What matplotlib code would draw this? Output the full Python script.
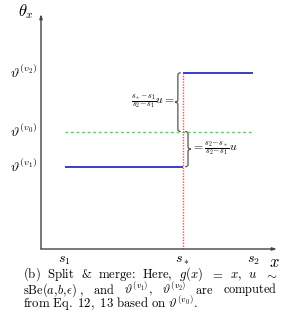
import matplotlib
matplotlib.use("Agg")
import matplotlib.pyplot as plt
from matplotlib.path import Path
from matplotlib.patches import PathPatch

plt.rcParams['mathtext.fontset'] = 'cm'
plt.rcParams['font.family'] = ['cmr10', 'DejaVu Serif']
plt.rcParams['axes.unicode_minus'] = False
plt.rcParams['axes.formatter.use_mathtext'] = True

# data
s_labels = [r'$s_1$', r'$s_*$', r'$s_2$']
s_vals = [0.1, 0.6, 0.9]
theta_labels = [r'$\vartheta^{(v_2)}$', r'$\vartheta^{(v_0)}$', r'$\vartheta^{(v_1)}$']
theta_v2 = 0.75
theta_v0 = 0.5
theta_v1 = 0.35

W, H = 282, 314
fig = plt.figure(figsize=(W / 100, H / 100), dpi=100)
ax = fig.add_axes([41 / W, 65 / H, 236 / W, 235 / H])
ax.set_xlim(0, 1)
ax.set_ylim(0, 1)
ax.axis('off')

axcol = '#444444'
ax.annotate('', xy=(0, 1.0), xytext=(0, 0), xycoords='axes fraction',
            arrowprops=dict(arrowstyle='-|>,head_length=0.25,head_width=0.08', color=axcol, lw=1.0,
                            shrinkA=0, shrinkB=0))
ax.annotate('', xy=(1.0, 0), xytext=(0, 0), xycoords='axes fraction',
            arrowprops=dict(arrowstyle='-|>,head_length=0.25,head_width=0.08', color=axcol, lw=1.0,
                            shrinkA=0, shrinkB=0))

s1, ss, s2 = s_vals
blue = '#3c3cc8'
ax.plot([s1, ss], [theta_v1, theta_v1], color=blue, lw=1.4, solid_capstyle='butt')
ax.plot([ss, s2], [theta_v2, theta_v2], color=blue, lw=1.4, solid_capstyle='butt')
ax.plot([s1, s2], [theta_v0, theta_v0], color='#44dd44', lw=1.0, ls=(0, (2, 2)))
ax.plot([ss, ss], [0, theta_v2], color='#e85a5a', lw=1.0, ls=(0, (1, 1)))

# braces
def brace(x, y0, y1, w, e):
    ym = (y0 + y1) / 2
    verts = [(x + w, y1), (x, y1), (x, y1 - e), (x, ym + e), (x, ym), (x - w, ym),
             (x, ym), (x, ym - e), (x, y0 + e), (x, y0), (x + w, y0)]
    codes = [Path.MOVETO, Path.CURVE3, Path.CURVE3, Path.LINETO, Path.CURVE3, Path.CURVE3,
             Path.CURVE3, Path.CURVE3, Path.LINETO, Path.CURVE3, Path.CURVE3]
    ax.add_patch(PathPatch(Path(verts, codes), fill=False, ec='#555555', lw=0.9))

brace(0.58, theta_v0, theta_v2, 0.012, 0.01)
brace(0.623, theta_v1, theta_v0, -0.012, 0.01)

ax.text(0.57, (theta_v0 + theta_v2) / 2, r'$\frac{s_*\!-\!s_1}{s_2\!-\!s_1}u=$', ha='right', va='center', fontsize=8.5)
ax.text(0.635, (theta_v1 + theta_v0) / 2, r'$=\frac{s_2\!-\!s_*}{s_2\!-\!s_1}u$', ha='left', va='center', fontsize=8.5)

# y labels
for lab, v in zip(theta_labels, [theta_v2, theta_v0, theta_v1]):
    ax.text(-0.015, v, lab, ha='right', va='center', fontsize=10)
for lab, v in zip(s_labels, s_vals):
    ax.text(v, -0.025, lab, ha='center', va='top', fontsize=10)
ax.text(0.99, -0.025, r'$x$', ha='center', va='top', fontsize=12)
fig.text(26 / W, 1 - 12 / H, r'$\theta_x$', ha='center', va='center', fontsize=12)

# caption (justified lines)
CAP_FS = 9.2
X0, X1 = 23, 277
line1 = [r'$\mathrm{(b)}$', r'$\mathrm{Split}$', '&', r'$\mathrm{merge}$:', r'$\mathrm{Here}$,',
         r'$g(x)$', r'$=$', r'$x$,', r'$u$', r'$\sim$']
line2 = [r'$\mathrm{sBe}(a,\!b,\!\epsilon)\ ,$', r'$\mathrm{and}$', r'$\vartheta^{(v_1)}$,',
         r'$\vartheta^{(v_2)}$', r'$\mathrm{are}$', r'$\mathrm{computed}$']
line3 = r'$\mathrm{from\ Eq.\ 12,\ 13\ based\ on}\ \vartheta^{(v_0)}.$'

renderer = fig.canvas.get_renderer()

def justify(words, ybase, fs):
    texts = [fig.text(0, 1 - ybase / H, w, ha='left', va='baseline', fontsize=fs) for w in words]
    widths = [t.get_window_extent(renderer).width for t in texts]
    gap = (X1 - X0 - sum(widths)) / (len(words) - 1)
    x = X0
    for t, wd in zip(texts, widths):
        t.set_x(x / W)
        x += wd + gap

justify(line1, 278, CAP_FS)
justify(line2, 293.5, 8.9)
fig.text(X0 / W, 1 - 308 / H, line3, ha='left', va='baseline', fontsize=CAP_FS)

fig.savefig('out.png', dpi=100)
